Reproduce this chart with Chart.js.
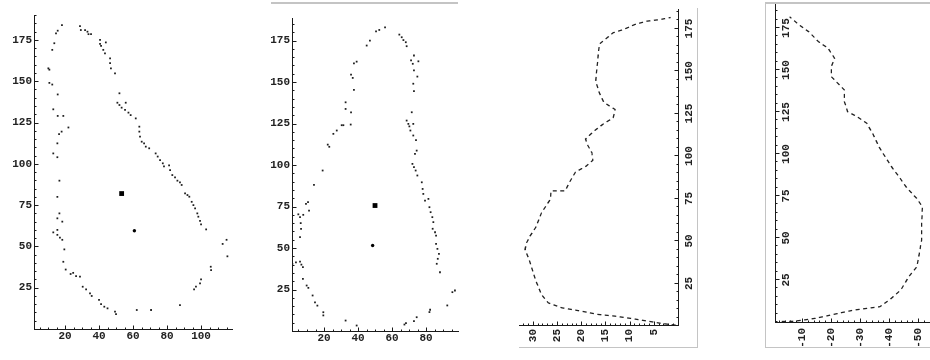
<!DOCTYPE html>
<html>
<head>
<meta charset="utf-8">
<script src="https://cdn.jsdelivr.net/npm/chart.js@4.4.0/dist/chart.umd.min.js"></script>
<style>
  html, body { margin: 0; padding: 0; background: #fff; }
  body { width: 930px; height: 360px; position: relative; overflow: hidden; }
  .panel { position: absolute; top: 0; }
  .rot { position: absolute; left: 0; top: 0; transform-origin: 0 0; transform: translateY(360px) rotate(-90deg); }
  .edge { position: absolute; background: #c4c4c4; }
</style>
</head>
<body>
<div class="panel" style="left:0;width:240px;height:360px"><canvas id="c1" width="240" height="360"></canvas></div>
<div class="panel" style="left:240px;width:240px;height:360px"><canvas id="c2" width="240" height="360"></canvas></div>
<div class="panel" style="left:495px;width:215px;height:360px"><canvas id="c3" class="rot" width="360" height="215"></canvas></div>
<div class="panel" style="left:745px;width:206px;height:360px"><canvas id="c4" class="rot" width="360" height="206"></canvas></div>

<!-- scan borders -->
<div class="edge" style="left:271px;top:2px;width:187px;height:2px"></div>
<div class="edge" style="left:697px;top:8px;width:1px;height:340px"></div>
<div class="edge" style="left:519px;top:347px;width:179px;height:1px"></div>
<div class="edge" style="left:765px;top:2px;width:165px;height:2px"></div>
<div class="edge" style="left:765px;top:2px;width:1px;height:346px"></div>
<div class="edge" style="left:765px;top:347px;width:165px;height:1px"></div>

<script>
// panel 1: outline points
const p1X = [18.2, 15.7, 14.7, 13.7, 12.5, 10.2, 10.8, 10.8, 12.5, 15.7, 13.1, 15.7, 19, 22, 18, 16.5, 15.5, 13.1, 15.5,
  16.7, 15.5, 16.7, 15.5, 18.4, 15.5, 13.1, 15.5, 17, 18.4, 19.6, 19, 20.4, 23.3, 24.8, 26.5, 28.8, 30.4, 32.4, 34.7,
  35.7, 40, 41.2, 43.1, 45, 49.4, 50, 62.2, 70.6,
  87.6, 95.9, 97, 99.4, 100, 105.7, 105.9, 112.7, 115, 115.5,
  28.8, 29.3, 31.8, 33.2, 33.8, 35.3, 40.6, 40.6, 41.2, 42.5, 44, 43.5, 46.5, 46.5, 47, 49.4, 52, 50.8, 52, 53.3,
  55.7, 55.3, 57.3, 58.6, 61.6, 63.7, 63.7, 64.1, 65.1, 66.5, 67.5, 69.5, 73.3, 74.5, 75.9, 77.5, 78.2, 81.2, 81.8,
  83.1, 84.7, 86.1, 87.6, 88.6, 90.6, 92, 93.1, 94.5, 95.5, 96.5, 97.8, 98.4, 99.4, 100, 103];
const p1Y = [184, 180.6, 179, 173, 169, 157.8, 157, 149, 148, 142, 133, 129, 129, 122, 119.5, 118, 112.4, 106.3, 104,
  89.8, 80, 70, 67, 65, 60, 58.5, 57, 55.3, 54, 48.2, 40.7, 36, 33.3, 34, 32, 31.7, 25.6, 24, 21.6,
  20, 17.6, 15.1, 13.5, 12.5, 10.5, 9, 11.5, 11.5,
  14.5, 24, 25.6, 27.6, 30, 37.7, 35.7, 51.5, 54, 44,
  183.4, 181, 181, 180, 178.5, 178.5, 175, 172.6, 171.4, 169, 173.5, 166.9, 163.9, 161, 157.8, 154.7, 142.7, 137, 135.6, 134,
  137, 132.7, 131, 129.5, 127.5, 122.5, 119.5, 116.5, 113.4, 112.4, 110.4, 109.4, 106.3, 104.4, 102.3, 100.3, 98.4, 99, 96.2,
  93.2, 91.8, 89.8, 88.8, 87.2, 82.1, 81.1, 80.1, 77, 75, 73, 70, 68, 65.4, 63.4, 60.3];
const p1Square = [53.3, 82];
const p1Dot = [60.8, 59.5];
const p1XTicks = [20, 40, 60, 80, 100];
const p1YTicks = [25, 50, 75, 100, 125, 150, 175];

// panel 2: outline points
const p2X = [55.9, 52.5, 50.6, 47, 45.1, 39.2, 37.6, 35.9, 36.9, 37.6, 32.7, 32.7, 35.9, 35.7, 30.4, 31.4, 27.5, 25.5,
  22.2, 23.1, 19.2, 14.1, 9.4, 10.6, 11.2, 7.8, 5.9, 6.3, 6.5, 5.9, 4.9, 3.5, 5.9, 6.7, 7.6, 1.4, 7.6, 9.8, 10.8,
  13.3, 14.7, 16.1, 19.6, 19.6, 32.7, 39.2,
  64.3, 65.7, 66.7, 68.1, 68.6, 72.9, 71.2, 72.2, 75.5, 72.9, 74.9, 72.5, 72.9, 71.6, 68.6, 69.6, 70.2, 72.5, 70.8,
  72.5, 74.1, 74.5, 73.5, 72, 72.9, 73.9, 74.9, 77.5, 78, 78.4, 79.4, 81.4, 82, 82.7, 83.7, 84.3, 83.9, 85.3, 85.9,
  85.9, 86.7, 87.6, 86.9, 86.3, 88.2, 92.5, 95.5, 97, 82.4, 82, 74.5, 72.9, 68.2, 67.3];
const p2Y = [183, 181.4, 180.6, 175, 172, 162.3, 161.3, 154.5, 152.5, 145.3, 137.8, 133.8, 131.8, 124.4, 124, 124, 120.8, 118.8,
  112.3, 111, 96.7, 88, 76.6, 77.6, 72.6, 70, 68.6, 65, 61.6, 56.5, 70.3, 41.4, 41.8, 40, 38.5, 40.5, 31.4, 27.4, 26,
  21.4, 17.3, 15.3, 11.3, 9.4, 6.3, 3.3,
  178.6, 177, 175.3, 174, 171.6, 166, 163, 161, 162.5, 157, 153.3, 149, 144.5, 131.8, 126.8, 124.8, 123.3, 124.8, 120.8,
  117.8, 115, 108.7, 106.7, 100.7, 98.7, 96.7, 93.7, 89.6, 85.6, 82.6, 78.6, 79.6, 74.6, 71.6, 68.6, 65.6, 61.6, 59.5, 57.5,
  52.5, 49.5, 46.5, 43.5, 40.5, 35.4, 15.4, 23.4, 24.4, 12.8, 11.4, 8.3, 5.9, 4.7, 3.9];
const p2Square = [50, 75.6];
const p2Dot = [48.6, 51.5];
const p2XTicks = [20, 40, 60, 80];
const p2YTicks = [25, 50, 75, 100, 125, 150, 175];

// panel 3: dashed profile (drawn unrotated, canvas turned by css)
const p3X = [0.5, 1.5, 2.8, 4.4, 5.8, 6.8, 8.7, 10.7, 13.6, 18.5, 25.4, 31.3, 40.1, 45, 48.9, 52.8, 58, 66.6, 74.4,
  79.5, 79.5, 84.2, 90.5, 94, 97.5, 102, 106, 110, 114.6, 118.5, 122.5, 127.4, 131.5, 137.5, 144, 150, 156, 162,
  166, 168.5, 172.5, 174.4, 177.4, 179.3, 180.3, 181.5];
const p3Y = [0.5, 3.4, 6.1, 9.6, 13, 16.5, 19.9, 24, 26.8, 28.2, 29.2, 29.9, 30.9, 31.6, 31.3, 30.6, 29.4, 28.2, 26.4,
  26.2, 23.3, 22.5, 21.2, 19, 17.6, 17.8, 18.6, 19.1, 17.4, 15.6, 13.4, 13, 15.3, 16.3, 17, 16.8, 16.6, 16.4,
  16.2, 15.1, 13.4, 11.3, 8.9, 6.5, 3.7, 1.5];
const p3XTicks = [25, 50, 75, 100, 125, 150, 175];
const p3YTicks = [5, 10, 15, 20, 25, 30];

// panel 4: dashed profile, negative side
const p4X = [0.3, 0.4, 1.2, 2.2, 3.8, 5.5, 7.1, 8.1, 9.1, 13.1, 19, 27, 32.9, 40.9, 48.8, 58.8, 68.6, 73.6, 79.6,
  86.5, 91.5, 97.4, 103.4, 111.3, 118.3, 122.2, 125.2, 131.1, 138.1, 143, 146, 152, 157, 162.9, 166.8, 172.8, 176.8, 181.7];
const p4Y = [-3, -6.8, -10.7, -14.6, -19, -23.4, -27.9, -32.3, -36.8, -40.1, -44, -46.8, -49.6, -50.4, -51.2, -51.2,
  -51.5, -49.5, -46.2, -43.4, -41.2, -39, -36.8, -34.6, -32.3, -29, -25.7, -24.6, -24.6, -21.8, -20.1, -20.1, -21.2,
  -19, -15.7, -12.3, -9, -5.7];
const p4XTicks = [25, 50, 75, 100, 125, 150, 175];
const p4YTicks = [-50, -40, -30, -20, -10];

const INK = "#1a1a1a";
const tickFont = { family: "'Liberation Mono', 'DejaVu Sans Mono', monospace", size: 11, weight: "bold" };

function stepValues(min, max, step) {
  const out = [];
  for (let v = Math.ceil(min / step) * step; v <= max + 1e-9; v += step) {
    out.push(Math.round(v * 100) / 100);
  }
  return out;
}

function toPoints(xs, ys) {
  return xs.map((x, i) => ({ x: x, y: ys[i] }));
}

// Mathematica style ticks: short marks pointing into the plot
const tickMarks = {
  id: "tickMarks",
  afterDatasetsDraw(chart, args, o) {
    const ctx = chart.ctx;
    const xs = chart.scales.x, ys = chart.scales.y;
    const axisY = Math.round(ys.getPixelForValue(o.xAxisAt)) + 0.5;
    const axisX = Math.round(xs.left) + 0.5;
    const dir = o.xAxisAt === ys.max ? 1 : -1;
    ctx.save();
    ctx.strokeStyle = INK;
    ctx.lineWidth = 1;
    ctx.beginPath();
    stepValues(xs.min, xs.max, o.xStep).forEach(v => {
      const p = Math.round(xs.getPixelForValue(v)) + 0.5;
      const len = o.xMajor.includes(v) ? 4 : 2;
      ctx.moveTo(p, axisY);
      ctx.lineTo(p, axisY + dir * len);
    });
    stepValues(ys.min, ys.max, o.yStep).forEach(v => {
      const p = Math.round(ys.getPixelForValue(v)) + 0.5;
      const len = o.yMajor.includes(v) ? 4 : 2;
      ctx.moveTo(axisX, p);
      ctx.lineTo(axisX + len, p);
    });
    ctx.stroke();
    ctx.restore();
  }
};

function axis(min, max, step, major, pad, size, extra) {
  const isX = extra.axis === "x";
  return Object.assign({
    type: "linear",
    min: min,
    max: max,
    grid: { display: false, drawTicks: false },
    border: { display: true, color: INK, width: 1 },
    ticks: {
      font: tickFont,
      color: "#222",
      padding: pad,
      autoSkip: false,
      maxRotation: 0,
      minRotation: 0,
      callback: v => (major.includes(v) ? String(v) : null)
    },
    afterBuildTicks: s => {
      s.ticks = stepValues(min, max, step).map(v => ({ value: v }));
    },
    afterFit: s => {
      if (isX) s.height = size; else s.width = size;
    }
  }, extra.opts || {});
}

function makeChart(id, datasets, cfg) {
  return new Chart(document.getElementById(id), {
    type: "scatter",
    data: { datasets: datasets },
    options: {
      responsive: false,
      animation: false,
      devicePixelRatio: 1,
      events: [],
      layout: { padding: cfg.padding },
      plugins: {
        legend: { display: false },
        tooltip: { enabled: false },
        tickMarks: cfg.marks
      },
      scales: { x: cfg.x, y: cfg.y }
    },
    plugins: [tickMarks]
  });
}

function dotSets(xs, ys, square, dot) {
  return [
    { data: toPoints(xs, ys), pointStyle: "rect", pointRadius: 1.25, backgroundColor: "#1e1e1e", borderWidth: 0 },
    { data: [{ x: square[0], y: square[1] }], pointStyle: "rect", pointRadius: 3.4, backgroundColor: "#000", borderWidth: 0 },
    { data: [{ x: dot[0], y: dot[1] }], pointStyle: "circle", pointRadius: 1.7, backgroundColor: "#000", borderWidth: 0 }
  ];
}

function lineSet(xs, ys) {
  return [{
    data: toPoints(xs, ys),
    showLine: true,
    pointRadius: 0,
    borderColor: "#222",
    borderWidth: 1.3,
    borderDash: [4, 3.5],
    tension: 0
  }];
}

makeChart("c1", dotSets(p1X, p1Y, p1Square, p1Dot), {
  padding: { left: 0, right: 8, top: 15, bottom: 0 },
  x: axis(1.76, 118.2, 5, p1XTicks, 1, 31, { axis: "x" }),
  y: axis(0, 190.1, 5, p1YTicks, 2, 34, { axis: "y" }),
  marks: { xAxisAt: 0, xStep: 5, yStep: 5, xMajor: p1XTicks, yMajor: p1YTicks }
});

makeChart("c2", dotSets(p2X, p2Y, p2Square, p2Dot), {
  padding: { left: 0, right: 22, top: 18, bottom: 0 },
  x: axis(1.18, 98.8, 5, p2XTicks, 1, 29, { axis: "x" }),
  y: axis(0, 188.6, 5, p2YTicks, 2, 52, { axis: "y" }),
  marks: { xAxisAt: 0, xStep: 5, yStep: 5, xMajor: p2XTicks, yMajor: p2YTicks }
});

makeChart("c3", lineSet(p3X, p3Y), {
  padding: { left: 0, right: 10, top: 24, bottom: 0 },
  x: axis(0, 185.9, 5, p3XTicks, 5, 32, { axis: "x" }),
  y: axis(0, 32.85, 1, p3YTicks, 3, 34, { axis: "y" }),
  marks: { xAxisAt: 0, xStep: 5, yStep: 1, xMajor: p3XTicks, yMajor: p3YTicks }
});

makeChart("c4", lineSet(p4X, p4Y), {
  padding: { left: 0, right: 5, top: 30, bottom: 6 },
  x: axis(-0.6, 188.7, 5, p4XTicks, 5, 0, { axis: "x", opts: { position: { y: -0.67 } } }),
  y: axis(-57.33, -0.67, 2, p4YTicks, 5, 37, { axis: "y" }),
  marks: { xAxisAt: -0.67, xStep: 5, yStep: 2, xMajor: p4XTicks, yMajor: p4YTicks }
});
</script>
</body>
</html>
